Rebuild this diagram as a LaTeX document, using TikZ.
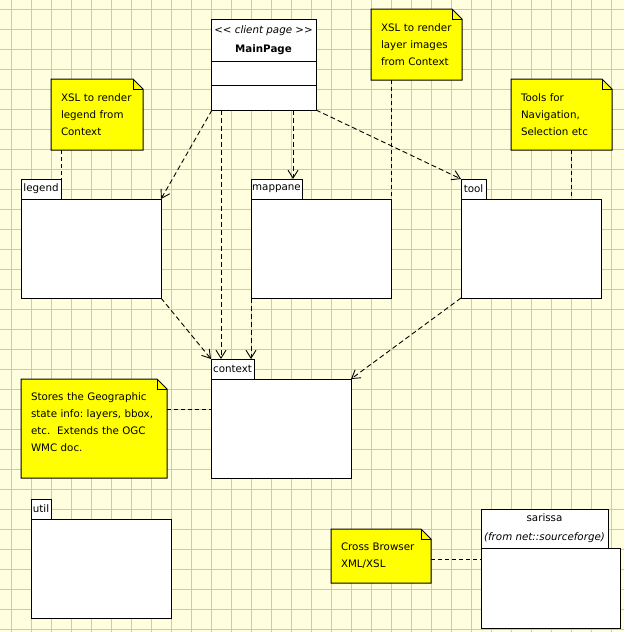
\documentclass[tikz,border=0pt]{standalone}
\usepackage{fontspec}
\setmainfont{DejaVu Sans}[ItalicFont={DejaVu Sans Oblique},BoldFont={DejaVu Sans Bold},BoldItalicFont={DejaVu Sans Bold Oblique}]
\usetikzlibrary{arrows.meta,calc}
\definecolor{bgc}{HTML}{FFFFE0}
\definecolor{gridc}{HTML}{C8C8C4}
\definecolor{noteyellow}{HTML}{FFFF00}
\pgfdeclarelayer{back}
\pgfsetlayers{back,main}
\newcommand\drawnotebox[1]{%
  \fill[noteyellow] (#1.north west) -- ($(#1.north east)+(-10,0)$) -- ($(#1.north east)+(0,10)$) -- (#1.south east) -- (#1.south west) -- cycle;
  \draw[line width=1pt,line join=miter] (#1.north west) -- ($(#1.north east)+(-10,0)$) -- ($(#1.north east)+(0,10)$) -- (#1.south east) -- (#1.south west) -- cycle;
  \draw[line width=1pt,line join=miter] ($(#1.north east)+(-10,0)$) -- ($(#1.north east)+(-10,10)$) -- ($(#1.north east)+(0,10)$);}
\begin{document}
\frenchspacing
\begin{tikzpicture}[x=1pt,y=-1pt,
  every node/.style={font=\fontsize{10.3}{17}\selectfont\frenchspacing},
  pkg/.style={draw=black,line width=1pt,fill=white,inner sep=0pt,outer sep=0pt,anchor=north west},
  tabbox/.style={pkg,minimum height=20pt},
  notebody/.style={inner xsep=10pt,inner ysep=0pt,outer sep=0pt,anchor=north west,align=left},
  headbox/.style={pkg,align=center,font=\fontsize{10.3}{19}\selectfont},
  dep/.style={line width=0.9pt,dash pattern=on 5pt off 3pt,-{Straight Barb[length=8pt,width=10pt,line width=0.9pt]}},
  link/.style={line width=0.9pt,dash pattern=on 4pt off 3pt},
]
\useasboundingbox (0,0) rectangle (624,632);
\begin{pgfonlayer}{back}
  \fill[bgc] (0,0) rectangle (624,632);
  \foreach \gx in {11,31,...,611} \draw[gridc,line width=1pt] (\gx,0) -- (\gx,632);
  \foreach \gy in {9,29,...,629} \draw[gridc,line width=1pt] (0,\gy) -- (624,\gy);
\end{pgfonlayer}

% MainPage class
\node[headbox,minimum width=105pt,minimum height=42pt] (mainhead) at (211,19)
  {\textit{<\kern0pt< client page >\kern0pt>}\\\textbf{MainPage}};
\node[pkg,minimum width=105pt,minimum height=24pt] (mainattr) at (211,61) {};
\node[pkg,minimum width=105pt,minimum height=25pt] (mainops) at (211,85) {};

% packages
\node[tabbox,minimum width=40pt] (legendtab) at (21,179) {legend};
\node[pkg,minimum width=140pt,minimum height=99pt] (legend) at (21,199) {};
\node[tabbox,minimum width=51pt] (mappanetab) at (251,179) {mappane};
\node[pkg,minimum width=140pt,minimum height=99pt] (mappane) at (251,199) {};
\node[tabbox,minimum width=25pt] (tooltab) at (461,179) {tool};
\node[pkg,minimum width=140pt,minimum height=99pt] (tool) at (461,199) {};
\node[tabbox,minimum width=43pt] (ctxtab) at (211,359) {context};
\node[pkg,minimum width=140pt,minimum height=99pt] (ctx) at (211,379) {};
\node[tabbox,minimum width=20pt] (utiltab) at (31,499) {util};
\node[pkg,minimum width=140pt,minimum height=99pt] (util) at (31,519) {};
\node[headbox,minimum width=127pt,minimum height=39pt] (sarissatab) at (481,509)
  {sarissa\\\textit{(from net::sourceforge)}};
\node[pkg,minimum width=139pt,minimum height=80pt] (sarissa) at (481,548) {};

% notes
\node[notebody,minimum width=92pt,minimum height=71pt,text width=72pt] (nlegend) at (51,79)
  {\mbox{XSL to render}\\\mbox{legend from}\\\mbox{Context}};
\node[notebody,minimum width=91pt,minimum height=71pt,text width=71pt] (nxsl) at (371,9)
  {\mbox{XSL to render}\\\mbox{layer images}\\\mbox{from Context}};
\node[notebody,minimum width=101pt,minimum height=71pt,text width=81pt] (ntool) at (511,79)
  {\mbox{Tools for}\\\mbox{Navigation,}\\\mbox{Selection etc}};
\node[notebody,minimum width=146pt,minimum height=99pt,text width=126pt] (nctx) at (21,379)
  {\mbox{Stores the Geographic}\\\mbox{state info: layers, bbox,}\\\mbox{etc.\ \ Extends the OGC}\\\mbox{WMC doc.}\\[-5pt]\mbox{}};
\node[notebody,minimum width=100pt,minimum height=54pt,text width=80pt] (ncross) at (331,529)
  {\mbox{Cross Browser}\\\mbox{XML/XSL}};

\begin{pgfonlayer}{back}
  \drawnotebox{nlegend}
  \drawnotebox{nxsl}
  \drawnotebox{ntool}
  \drawnotebox{nctx}
  \drawnotebox{ncross}
\end{pgfonlayer}

% note links
\draw[link] (nlegend.south -| legendtab.north east) -- (legendtab.north east);
\draw[link] (nxsl.south -| mappane.north east) -- (mappane.north east);
\coordinate (toolx) at ($(tool.north west)+(110,0)$);
\draw[link] (ntool.south -| toolx) -- (toolx);
\coordinate (ctxy) at ($(nctx.north east)+(0,30)$);
\draw[link] (ctxy) -- (ctxy -| ctx.west);
\coordinate (crossy) at ($(ncross.north east)+(0,30)$);
\draw[link] (crossy) -- (crossy -| sarissa.west);

% dependencies
\draw[dep] ($(mainops.south west)+(1,0)$) -- (legend.north east);
\draw[dep] ($(mainops.south west)+(10,0)$) -- ($(ctxtab.north west)+(10,0)$);
\draw[dep] ($(mainops.south west)+(82,0)$) -- ($(mappanetab.north west)+(42,0)$);
\draw[dep] (mainops.south east) -- (tooltab.north west);
\draw[dep] (legend.south east) -- (ctxtab.north west);
\draw[dep] (mappane.south west) -- ($(ctxtab.north west)+(40,0)$);
\draw[dep] (tool.south west) -- (ctx.north east);
\end{tikzpicture}
\end{document}
